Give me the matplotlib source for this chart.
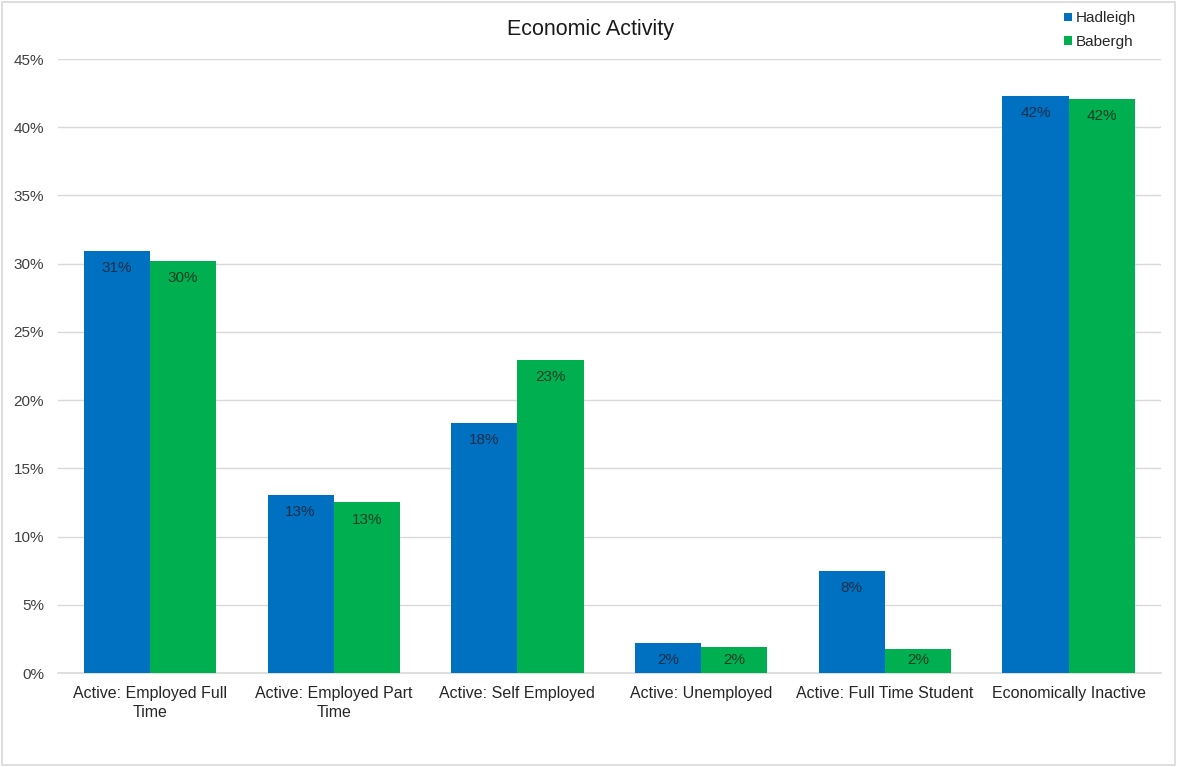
import matplotlib.pyplot as plt
import numpy as np
from matplotlib.patches import Rectangle

plt.rcParams["font.family"] = ["Liberation Sans", "DejaVu Sans"]

categories = ["Active: Employed Full\nTime", "Active: Employed Part\nTime", "Active: Self Employed",
              "Active: Unemployed", "Active: Full Time Student", "Economically Inactive"]
hadleigh = [30.95, 13.05, 18.3, 2.2, 7.5, 42.3]
babergh = [30.2, 12.5, 22.95, 1.9, 1.75, 42.05]
hadleigh_labels = ["31%", "13%", "18%", "2%", "8%", "42%"]
babergh_labels = ["30%", "13%", "23%", "2%", "2%", "42%"]

blue = "#0070C0"
green = "#00B050"

fig = plt.figure(figsize=(11.77, 7.67), dpi=100)
fig.patches.append(Rectangle((0.002, 0.002), 0.996, 0.996, transform=fig.transFigure,
                             fill=False, edgecolor="#d9d9d9", linewidth=1.2))
ax = fig.add_axes([0.0493, 0.1225, 0.9367, 0.8005])

x = np.arange(len(categories))
w = 0.36
b1 = ax.bar(x - w / 2, hadleigh, w, color=blue, label="Hadleigh", zorder=3)
b2 = ax.bar(x + w / 2, babergh, w, color=green, label="Babergh", zorder=3)

# labels sit just inside the top, but never lower than near the baseline
for rects, labs, col in [(b1, hadleigh_labels, "#1a2f4a"), (b2, babergh_labels, "#123d22")]:
    for r, lab in zip(rects, labs):
        y = max(r.get_height() - 1.25, 0.95)
        ax.text(r.get_x() + r.get_width() / 2, y, lab, ha="center", va="center",
                fontsize=11, color=col, zorder=4)

ax.set_xlim(-0.5, len(categories) - 0.5)
ax.set_ylim(0, 45)
ax.set_yticks(np.arange(0, 46, 5))
ax.set_yticklabels([f"{v}%" for v in range(0, 46, 5)], fontsize=11, color="#404040")
ax.set_xticks(x)
ax.set_xticklabels(categories, fontsize=11.5, color="#262626", linespacing=1.35)
ax.tick_params(axis="both", length=0)
ax.tick_params(axis="y", pad=10)
ax.tick_params(axis="x", pad=9)
ax.grid(axis="y", color="#d9d9d9", linewidth=1, zorder=0)
for s in ["top", "right", "left"]:
    ax.spines[s].set_visible(False)
ax.spines["bottom"].set_color("#d9d9d9")
ax.spines["bottom"].set_linewidth(1.2)

fig.text(0.502, 0.962, "Economic Activity", ha="center", va="center", fontsize=15.5, color="#1a1a1a")
fig.legend(handles=[b1, b2], loc="upper right", bbox_to_anchor=(0.977, 1.003), frameon=False,
           fontsize=11, handlelength=0.5, handleheight=0.5, handletextpad=0.25,
           labelspacing=0.62, labelcolor="#262626")

fig.savefig("out.png", dpi=100)
